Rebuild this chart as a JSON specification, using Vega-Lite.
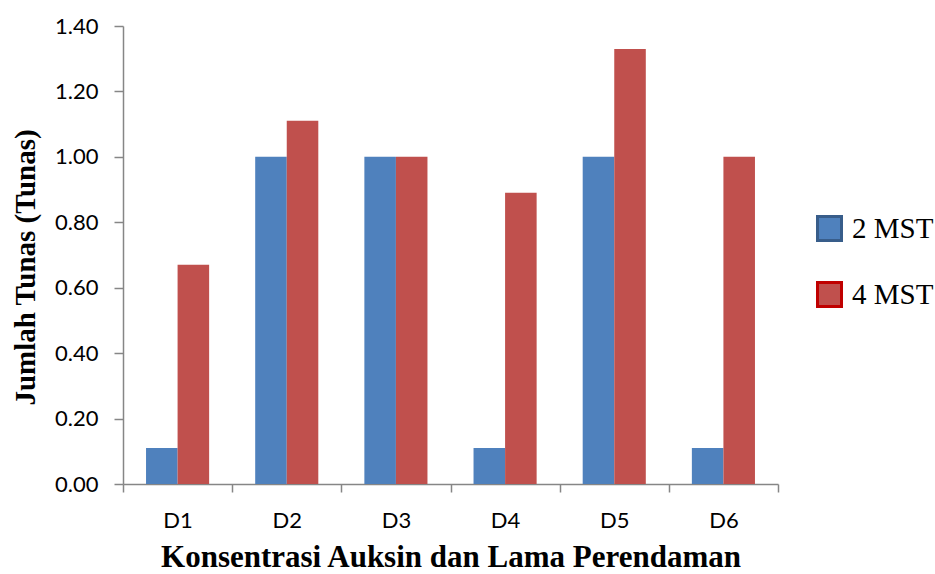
{
  "$schema": "https://vega.github.io/schema/vega-lite/v6.json",
  "autosize": "none",
  "width": 655,
  "height": 458,
  "padding": {"left": 123, "top": 26, "right": 157, "bottom": 90},
  "background": "white",
  "config": {"view": {"stroke": null}},
  "data": {"values": [
    {"k": "D1", "s": "2 MST", "v": 0.11},
    {"k": "D1", "s": "4 MST", "v": 0.67},
    {"k": "D2", "s": "2 MST", "v": 1.0},
    {"k": "D2", "s": "4 MST", "v": 1.11},
    {"k": "D3", "s": "2 MST", "v": 1.0},
    {"k": "D3", "s": "4 MST", "v": 1.0},
    {"k": "D4", "s": "2 MST", "v": 0.11},
    {"k": "D4", "s": "4 MST", "v": 0.89},
    {"k": "D5", "s": "2 MST", "v": 1.0},
    {"k": "D5", "s": "4 MST", "v": 1.33},
    {"k": "D6", "s": "2 MST", "v": 0.11},
    {"k": "D6", "s": "4 MST", "v": 1.0}
  ]},
  "mark": {"type": "bar", "strokeWidth": 0},
  "encoding": {
    "x": {
      "field": "k", "type": "nominal",
      "scale": {"paddingInner": 0, "paddingOuter": 0},
      "axis": {
        "title": "Konsentrasi Auksin dan Lama Perendaman",
        "titleFont": "Liberation Serif", "titleFontWeight": "bold", "titleFontSize": 31, "titleColor": "black",
        "titleBaseline": "middle", "titleY": 73,
        "labelAngle": 0, "labelFont": "Lato", "labelFontSize": 22, "labelColor": "black",
        "labelPadding": 18, "tickSize": 8, "tickBand": "extent",
        "domainColor": "#868686", "tickColor": "#868686", "domainWidth": 1.5, "tickWidth": 1.5
      }
    },
    "xOffset": {"field": "s", "type": "nominal", "scale": {"paddingInner": 0, "paddingOuter": 0.73}},
    "y": {
      "field": "v", "type": "quantitative",
      "scale": {"domain": [0, 1.4], "nice": false},
      "axis": {
        "title": "Jumlah Tunas (Tunas)",
        "titleFont": "Liberation Serif", "titleFontWeight": "bold", "titleFontSize": 29, "titleColor": "black",
        "titleX": -98, "titleY": 241, "titleBaseline": "middle",
        "values": [0, 0.2, 0.4, 0.6, 0.8, 1.0, 1.2, 1.4], "format": ".2f",
        "grid": false,
        "labelFont": "Lato", "labelFontSize": 22, "labelColor": "black",
        "labelPadding": 16, "tickSize": 9,
        "domainColor": "#868686", "tickColor": "#868686", "domainWidth": 1.5, "tickWidth": 1.5
      }
    },
    "fill": {
      "field": "s", "type": "nominal",
      "scale": {"domain": ["2 MST", "4 MST"], "range": ["#4f81bd", "#c0504d"]},
      "legend": {
        "title": null, "orient": "none", "legendX": 692, "legendY": 188,
        "symbolType": "square", "symbolSize": 576, "symbolStrokeWidth": 3,
        "labelFont": "Liberation Serif", "labelFontSize": 29, "labelColor": "black",
        "rowPadding": 29, "labelOffset": 8
      }
    },
    "stroke": {
      "field": "s", "type": "nominal",
      "scale": {"domain": ["2 MST", "4 MST"], "range": ["#385d8a", "#c00000"]},
      "legend": {
        "title": null, "orient": "none", "legendX": 692, "legendY": 188,
        "symbolType": "square", "symbolSize": 576, "symbolStrokeWidth": 3,
        "labelFont": "Liberation Serif", "labelFontSize": 29, "labelColor": "black",
        "rowPadding": 29, "labelOffset": 8
      }
    }
  }
}
